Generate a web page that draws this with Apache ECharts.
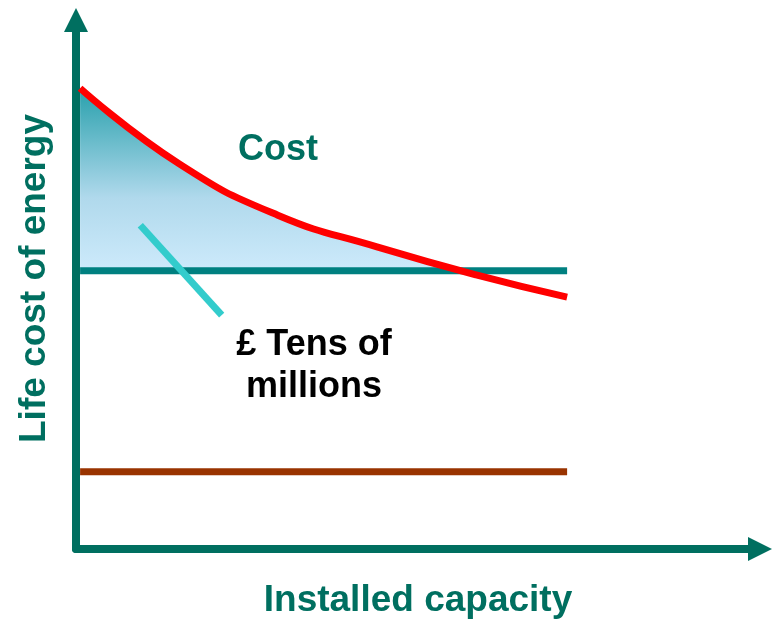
<!DOCTYPE html>
<html>
<head>
<meta charset="utf-8">
<script src="https://cdn.jsdelivr.net/npm/echarts@6/dist/echarts.min.js"></script>
<style>
    html, body { margin: 0; padding: 0; background: #fff; }
    #chart { width: 774px; height: 620px; }
</style>
</head>
<body>
<div id="chart"></div>
<script>
// cost curve (capacity 0..100, cost 0..100)
var costX = [0.6, 15.1, 29.5, 44.0, 58.5, 71.8]
var costY = [87.1, 72.8, 63.1, 57.1, 51.8, 47.6]
var targetLevel = 52.6    // teal line
var floorLevel = 14.6     // brown line
var crossX = 56.5         // where the curve meets the teal line
var lineX = [0.6, 71.8]
var pointerX = [9.4, 21.3]
var pointerY = [61.2, 44.2]

var axisColor = '#006f60'
var font = '"Liberation Sans", Arial, sans-serif'

var myChart = echarts.init(document.getElementById('chart'));

function pairs(xs, ys) {
    var out = []
    for (var i = 0; i < xs.length; i++) out.push([xs[i], ys[i]])
    return out
}

// shaded part only up to the crossing point
var shadeData = []
for (var i = 0; i < costX.length; i++) {
    if (costX[i] < crossX) shadeData.push([costX[i], costY[i]])
}
shadeData.push([crossX, targetLevel])

function axisStyle(name, gap, extra) {
    return {
        type: 'value',
        min: 0,
        max: 100,
        name: name,
        nameLocation: 'middle',
        nameGap: gap,
        nameTextStyle: echarts.util.extend({
            color: axisColor, fontSize: 37, fontWeight: 'bold', fontFamily: font
        }, extra || {}),
        axisLine: {
            lineStyle: { color: axisColor, width: 8 },
            symbol: ['none', 'triangle'],
            symbolSize: [24, 24]
        },
        axisTick: { show: false },
        axisLabel: { show: false },
        splitLine: { show: false }
    }
}

var option = {
    animation: false,
    grid: { left: 76, top: 20, right: 14, bottom: 71, outerBoundsMode: 'none' },
    xAxis: axisStyle('Installed capacity', 33),
    yAxis: axisStyle('Life cost of energy', 23, { padding: [0, 0, 0, 12] }),
    graphic: [
        {
            type: 'text',
            style: { text: 'Cost', x: 278, y: 150, align: 'center', verticalAlign: 'middle',
                fill: axisColor, font: 'bold 36px ' + font }
        },
        {
            type: 'text',
            style: { text: '£ Tens of\nmillions', x: 314, y: 366, align: 'center', verticalAlign: 'middle',
                lineHeight: 42, fill: '#000', font: 'bold 36px ' + font }
        }
    ],
    series: [
        {
            type: 'line',
            data: shadeData,
            smooth: 0.5,
            showSymbol: false,
            lineStyle: { width: 0 },
            areaStyle: {
                origin: targetLevel,
                opacity: 1,
                color: new echarts.graphic.LinearGradient(0, 0, 0, 1, [
                    { offset: 0, color: '#28a0ac' },
                    { offset: 0.6, color: '#b0d9ec' },
                    { offset: 1, color: '#cdeafb' }
                ])
            },
            z: 1
        },
        {
            type: 'line',
            data: pairs(lineX, [floorLevel, floorLevel]),
            showSymbol: false,
            lineStyle: { color: '#993300', width: 7 }
        },
        {
            type: 'line',
            data: pairs(lineX, [targetLevel, targetLevel]),
            showSymbol: false,
            lineStyle: { color: '#008080', width: 7 }
        },
        {
            type: 'line',
            data: pairs(costX, costY),
            smooth: 0.5,
            showSymbol: false,
            lineStyle: { color: '#ff0000', width: 7 },
            z: 4
        },
        {
            type: 'line',
            data: pairs(pointerX, pointerY),
            showSymbol: false,
            lineStyle: { color: '#33cccc', width: 7, cap: 'butt' },
            z: 4
        }
    ]
};
myChart.setOption(option);
</script>
</body>
</html>
